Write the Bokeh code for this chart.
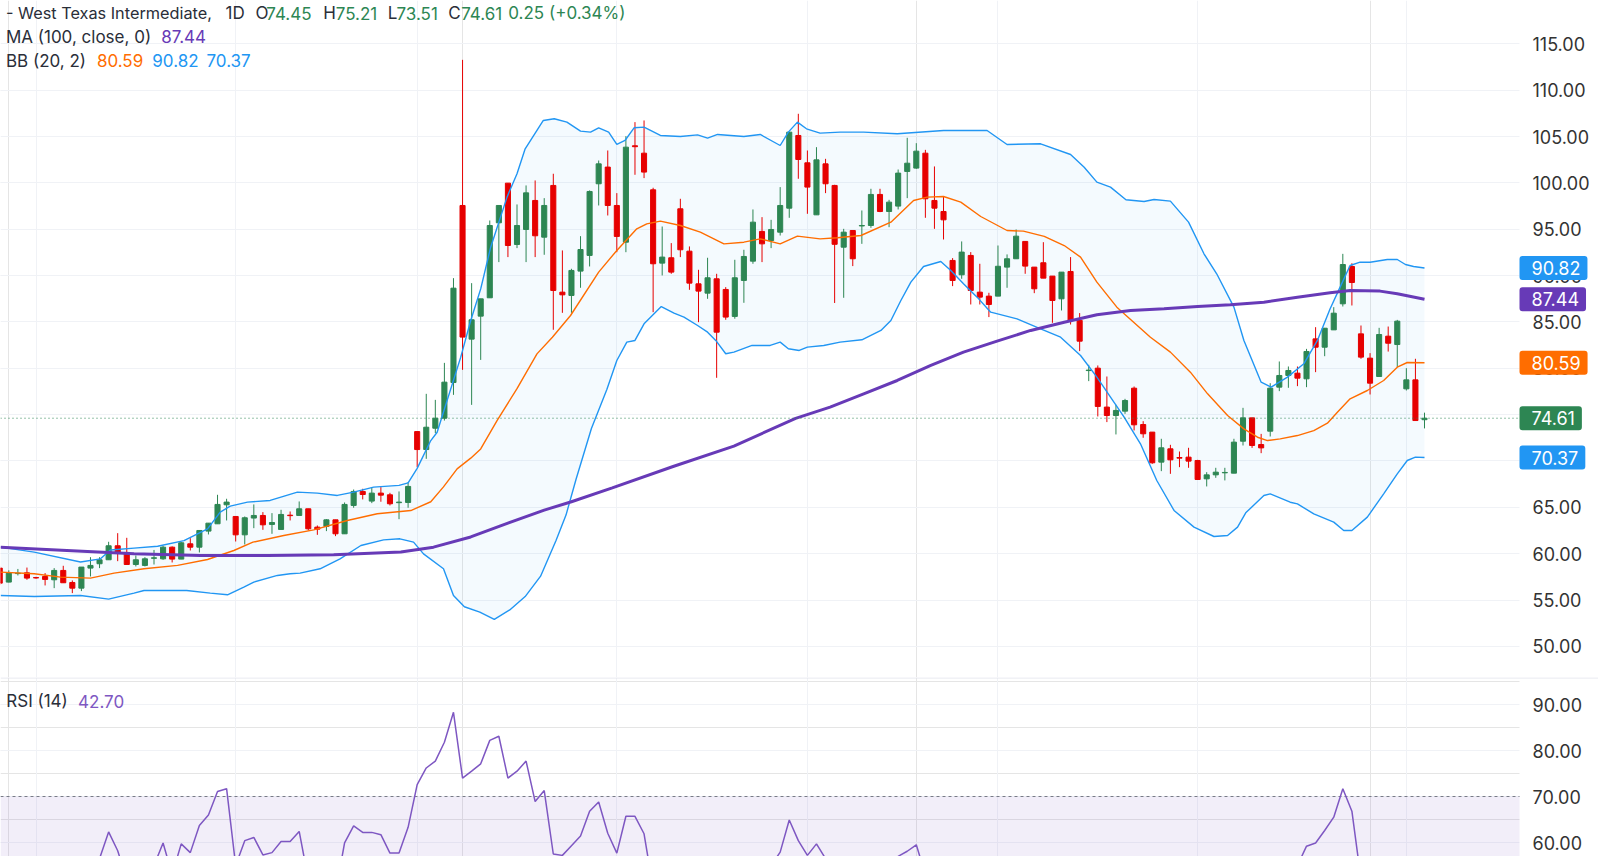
from bokeh.plotting import figure
from bokeh.models import (Range1d, FixedTicker, Grid, Label, Span, BoxAnnotation, PrintfTickFormatter,
                          ColumnDataSource, LinearAxis)
from bokeh.layouts import column
from bokeh.embed import file_html
from bokeh.resources import INLINE

# ---------------- data ----------------
open_ = [58.44, 56.93, 57.85, 57.93, 57.42, 57.54, 57.18, 58.19, 56.89, 56.28, 58.44,
         58.91, 59.34, 60.85, 60.13, 58.83, 58.73, 59.50, 59.44, 60.70, 59.41,
         61.06, 60.70, 62.43, 63.22, 65.27, 64.01, 62.03, 63.84, 64.12, 63.15,
         62.61, 64.15, 64.12, 64.84, 62.86, 62.93, 63.65, 62.14, 65.20, 66.71,
         65.67, 66.53, 66.35, 65.50, 65.52, 73.17, 71.23, 73.53, 74.61, 78.46,
         97.56, 83.14, 85.62, 87.60, 95.69, 99.97, 93.35, 94.97, 98.10, 94.14,
         99.72, 88.21, 87.85, 90.48, 92.17, 99.90, 101.70, 97.56, 93.60, 104.00,
         103.20, 99.25, 91.34, 91.92, 97.20, 92.63, 89.11, 88.10, 89.65, 88.50,
         85.59, 89.47, 91.55, 94.76, 93.78, 94.68, 97.27, 105.11, 102.16, 96.55,
         102.05, 99.72, 93.06, 94.86, 95.35, 95.40, 98.75, 96.91, 97.49, 101.23,
         101.59, 103.20, 98.10, 96.91, 91.63, 90.08, 92.17, 88.21, 87.78, 87.78,
         90.91, 91.81, 93.68, 90.91, 91.38, 89.94, 87.49, 90.44, 85.16, 79.75,
         80.01, 75.81, 74.90, 75.37, 77.85, 73.93, 73.11, 69.87, 71.31, 70.37,
         70.41, 70.05, 68.07, 68.50, 68.72, 68.68, 72.13, 74.65, 71.77, 73.21,
         77.96, 79.22, 79.47, 78.86, 83.17, 82.27, 84.14, 86.95, 90.98, 83.71,
         81.09, 79.11, 83.46, 82.56, 77.78, 78.75, 74.45]
high = [58.60, 58.20, 58.35, 58.50, 57.50, 57.90, 58.44, 58.69, 57.11, 58.55, 59.62,
        59.62, 61.28, 62.21, 61.71, 59.80, 59.62, 60.40, 60.85, 60.78, 61.24,
        61.67, 62.50, 63.29, 66.35, 65.92, 64.01, 64.01, 65.31, 64.48, 64.37,
        64.73, 64.55, 65.63, 64.84, 63.04, 63.72, 63.65, 65.52, 66.92, 67.00,
        67.18, 67.18, 66.56, 66.71, 67.72, 73.17, 77.24, 76.59, 80.58, 89.72,
        113.27, 89.18, 87.49, 95.94, 97.56, 99.97, 97.67, 99.72, 100.26, 98.35,
        100.98, 92.71, 90.73, 94.25, 99.18, 102.41, 103.49, 98.89, 105.04, 106.55,
        106.73, 99.47, 95.29, 93.50, 98.28, 93.14, 90.62, 91.92, 90.19, 88.75,
        91.70, 92.78, 97.13, 96.30, 96.01, 99.54, 105.47, 107.45, 103.49, 103.85,
        102.59, 99.79, 95.04, 94.86, 97.02, 99.36, 99.36, 98.17, 101.44, 104.86,
        104.28, 103.56, 101.77, 98.53, 91.88, 93.68, 92.53, 91.27, 88.14, 93.24,
        92.28, 94.97, 93.68, 90.91, 93.60, 89.94, 90.37, 91.99, 85.95, 80.37,
        80.30, 79.11, 76.06, 76.70, 78.03, 74.29, 73.11, 72.39, 71.74, 71.02,
        71.42, 70.12, 68.79, 69.26, 69.26, 72.39, 75.73, 74.65, 72.92, 78.39,
        80.73, 80.19, 80.19, 82.09, 84.43, 84.32, 86.59, 92.34, 91.33, 84.61,
        81.63, 84.36, 84.50, 85.22, 80.01, 81.02, 75.21]
low = [56.60, 56.90, 57.65, 57.18, 57.30, 56.57, 56.28, 56.86, 55.74, 55.96, 57.54,
       58.44, 59.34, 59.19, 58.83, 58.62, 58.62, 58.83, 59.34, 59.05, 59.41,
       60.34, 60.13, 62.07, 63.22, 63.58, 61.31, 60.99, 62.75, 62.57, 62.14,
       62.61, 63.58, 64.12, 62.50, 62.03, 62.43, 61.89, 62.14, 64.95, 65.85,
       65.45, 65.60, 65.20, 63.72, 64.95, 69.33, 70.23, 73.00, 74.36, 77.13,
       79.83, 76.05, 80.90, 87.60, 91.45, 91.99, 92.96, 91.45, 91.99, 92.24,
       84.15, 85.98, 85.98, 88.68, 90.98, 97.56, 96.48, 92.52, 92.52, 100.87,
       100.51, 86.05, 90.01, 90.19, 91.99, 88.46, 84.97, 87.49, 78.97, 85.23,
       85.34, 87.06, 91.27, 91.45, 92.96, 94.32, 96.23, 100.44, 96.66, 96.55,
       98.89, 87.04, 87.60, 91.02, 93.42, 95.15, 96.84, 95.22, 97.13, 98.35,
       101.51, 96.23, 95.04, 93.89, 88.86, 89.65, 86.88, 86.88, 85.52, 87.78,
       88.68, 91.81, 90.19, 88.10, 89.72, 84.90, 86.23, 84.72, 81.85, 78.61,
       74.80, 74.19, 72.86, 75.08, 73.29, 72.50, 69.69, 68.90, 68.61, 69.33,
       69.26, 67.97, 67.25, 68.18, 67.90, 68.68, 71.67, 71.41, 70.84, 72.64,
       77.53, 77.89, 78.07, 77.96, 79.58, 81.30, 84.14, 86.66, 86.77, 81.02,
       77.17, 79.11, 81.80, 80.12, 77.60, 74.36, 73.51]
close = [56.82, 57.90, 57.90, 57.36, 57.38, 57.22, 58.19, 56.86, 56.28, 58.55, 58.73,
         59.34, 60.85, 60.13, 58.83, 59.34, 59.44, 59.55, 60.70, 59.41, 61.17,
         60.70, 62.50, 63.29, 65.31, 65.56, 62.03, 63.87, 64.12, 63.11, 63.36,
         64.23, 64.10, 64.84, 62.68, 62.64, 63.65, 62.14, 65.31, 66.71, 66.38,
         66.53, 66.31, 65.38, 65.56, 67.25, 71.23, 73.64, 74.61, 78.50, 88.64,
         83.36, 85.23, 87.49, 95.40, 97.56, 93.24, 95.40, 98.92, 94.29, 97.56,
         88.39, 87.92, 90.55, 92.81, 99.07, 102.05, 97.56, 94.22, 103.85, 103.90,
         101.16, 91.27, 91.99, 90.37, 92.78, 89.18, 88.32, 89.76, 83.89, 85.52,
         89.76, 92.06, 95.76, 93.42, 94.97, 97.56, 105.47, 102.52, 99.54, 102.48,
         99.90, 93.37, 94.68, 91.81, 95.40, 98.75, 96.91, 97.92, 101.05, 102.12,
         103.42, 98.28, 97.27, 96.01, 89.47, 92.53, 88.39, 87.67, 86.88, 91.00,
         91.81, 94.25, 91.02, 88.57, 89.72, 87.31, 90.37, 85.16, 82.92, 79.80,
         75.88, 74.90, 75.45, 76.52, 73.90, 72.93, 69.80, 71.42, 70.12, 70.30,
         69.98, 68.00, 68.50, 68.79, 68.76, 72.03, 74.65, 71.67, 71.41, 77.85,
         79.22, 79.76, 78.93, 81.81, 82.27, 84.32, 85.94, 91.19, 89.25, 81.20,
         78.39, 83.64, 82.70, 85.08, 78.75, 74.36, 74.61]

rsi = [45, 48, 49, 46, 46, 45, 51, 47, 44, 52, 54,
       56.5, 62.3, 58.2, 52, 53.5, 54.5, 55, 59.9, 53, 59.7,
       57.8, 63.7, 66.0, 71.1, 71.7, 55, 60.4, 61.1, 57.3, 57.8,
       60.2, 60.2, 62.4, 52, 51, 53, 49, 59.9, 63.6, 62.2,
       62.2, 61.7, 57.7, 57.7, 63.3, 72.6, 76.2, 77.7, 81.8, 88.3,
       74.0, 75.5, 77.1, 82.2, 83.1, 74.0, 75.5, 77.7, 68.9, 71.3,
       57.5, 57.2, 59.3, 61.4, 66.8, 68.8, 62.0, 57.7, 65.7, 65.7,
       61.9, 50, 51, 49.5, 53, 49, 48, 50, 45, 46,
       51, 53, 56, 54.5, 55, 57.9, 64.9, 60.4, 57.2, 59.7,
       56.5, 49, 50.5, 48.5, 51.5, 54.5, 53, 54, 57, 58.1,
       59.5, 53, 52, 51, 45, 48, 44, 43.5, 42.5, 47,
       48, 51, 48, 45.5, 47, 44, 47.5, 42, 40, 37.5,
       34, 33, 34.5, 36, 33, 32, 29.5, 32, 31, 31,
       30.5, 29, 30, 30.5, 31, 38, 44, 40, 39.5, 52,
       55, 56, 55, 59.2, 59.9, 62.6, 65.5, 71.7, 66.8, 52,
       47, 54, 53, 56, 46, 42, 42.70]

ma_x = [-0.9, 6.4, 13.8, 21.1, 28.5, 35.8, 43.2, 46.8, 50.9, 55.0, 59.0, 62.0, 66.5,
        73.2, 79.9, 86.7, 90.5, 94.2, 97.9, 101.6, 105.2, 108.9, 112.6, 116.3, 119.9,
        123.6, 127.3, 131.0, 134.6, 138.3, 142.0, 145.6, 147.8, 151.1, 153.0, 156.0]
ma = [60.70, 60.34, 59.98, 59.80, 59.80, 59.88, 60.17, 60.70, 61.80, 63.30, 64.70, 65.60, 67.10,
      69.40, 71.60, 74.60, 75.80, 77.24, 78.68, 80.30, 81.74, 82.92, 84.08, 84.97, 85.77,
      86.23, 86.41, 86.66, 86.84, 87.13, 87.67, 88.14, 88.39, 88.32, 88.03, 87.44]

bb_up_x = [-0.9, 2.8, 7.9, 10.1, 11.2, 13.8, 16.4, 19.3, 21.9, 23.3, 24.4, 26.3, 28.8, 31.8,
           34.0, 36.2, 38.0, 40.2, 43.0, 44.0, 45.0, 46.5, 47.2, 49.8, 50.9, 52.0, 53.1, 54.9,
           56.0, 56.9, 58.9, 60.1, 61.5, 63.0, 64.1, 65.0, 66.1, 67.0, 67.9, 68.9, 70.0, 71.8,
           74.0, 75.9, 77.0, 78.1, 81.0, 82.8, 85.0, 85.9, 86.9, 87.9, 89.4, 91.6, 94.2, 97.9,
           103.0, 107.8, 110.0, 113.7, 117.0, 118.5, 119.9, 121.4, 123.1, 125.1, 126.2, 128.0,
           130.0, 131.7, 133.1, 135.0, 136.1, 138.0, 139.1, 140.9, 142.7, 144.2, 145.6, 146.7,
           147.8, 148.9, 150.0, 151.9, 153.0, 153.9, 154.8, 156.0]
bb_up = [60.70, 60.17, 59.10, 59.44, 60.40, 60.60, 60.80, 61.40, 62.68, 64.48, 65.13, 65.56, 65.74, 66.64,
         66.53, 66.28, 66.64, 67.18, 67.36, 67.64, 69.20, 72.20, 73.10, 81.20, 85.15, 88.56, 93.06, 98.46,
         100.98, 103.67, 106.73, 106.91, 106.55, 105.58, 105.47, 105.94, 105.47, 104.14, 104.57, 105.94, 106.01, 105.11,
         105.00, 105.18, 104.82, 105.22, 105.00, 105.22, 104.03, 105.47, 106.55, 105.83, 105.36, 105.47, 105.47, 105.29,
         105.65, 105.65, 104.14, 104.21, 103.06, 101.69, 100.08, 99.54, 98.17, 97.99, 98.21, 98.03,
         95.76, 92.35, 90.19, 86.59, 82.99, 78.50, 77.96, 79.04, 80.48, 83.00, 86.41, 88.75,
         91.08, 91.44, 91.44, 91.73, 91.73, 91.19, 90.98, 90.82]

bb_mid_x = [-0.9, 2.8, 5.7, 9.0, 11.6, 14.9, 18.6, 21.9, 24.8, 26.9, 30.3, 33.6, 37.3, 40.6,
            44.3, 46.5, 47.9, 49.4, 50.9, 52.0, 53.8, 56.0, 58.2, 59.9, 61.9, 65.0, 67.0, 69.2,
            70.3, 71.8, 74.0, 76.2, 78.8, 81.0, 82.8, 85.0, 86.9, 89.4, 91.3, 93.9, 97.2, 99.7,
            101.2, 103.0, 104.9, 107.1, 110.0, 111.8, 114.1, 116.3, 118.1, 119.9, 122.1, 125.8,
            128.0, 130.2, 132.1, 134.3, 136.1, 137.6, 138.7, 140.1, 142.0, 143.8, 145.3, 146.4,
            147.8, 149.7, 151.5, 153.0, 154.1, 156.0]
bb_mid = [58.01, 57.83, 57.47, 57.36, 57.90, 58.37, 58.73, 59.37, 60.34, 61.24, 61.96, 62.57, 63.58, 64.30,
          64.65, 65.60, 67.20, 69.15, 70.30, 71.30, 74.36, 77.80, 81.55, 83.35, 85.69, 90.37, 92.71, 95.04,
          95.58, 95.87, 95.40, 94.68, 93.42, 93.60, 93.96, 93.42, 94.25, 93.96, 94.07, 94.32, 95.76, 98.10,
          98.46, 98.53, 97.92, 96.37, 94.86, 94.79, 94.22, 93.24, 91.99, 89.29, 86.59, 83.35,
          81.74, 79.58, 77.24, 74.90, 73.46, 72.56, 72.20, 72.38, 72.74, 73.28, 74.07, 75.26,
          76.70, 77.60, 78.68, 80.12, 80.62, 80.59]

bb_lo_x = [-0.9, 2.8, 7.9, 11.0, 13.8, 14.9, 19.6, 22.2, 24.1, 25.9, 27.0, 29.6, 31.0, 32.1,
           34.3, 36.5, 38.8, 41.3, 43.1, 44.6, 45.7, 47.9, 49.0, 50.2, 51.9, 53.5, 55.2, 56.9,
           58.6, 60.3, 61.4, 62.5, 64.2, 65.9, 67.0, 68.1, 69.0, 70.0, 71.1, 71.9, 73.3, 74.4,
           75.9, 77.0, 77.9, 79.0, 79.9, 81.9, 83.9, 85.0, 85.9, 87.1, 88.0, 89.8, 91.6, 94.0,
           96.1, 97.2, 98.3, 99.4, 100.8, 102.7, 103.8, 105.2, 106.7, 108.2, 111.1, 113.7,
           115.9, 118.1, 119.9, 121.4, 122.9, 124.7, 126.5, 128.4, 130.6, 132.8, 134.3, 135.4,
           136.3, 138.3, 139.0, 141.2, 142.0, 143.8, 146.0, 147.1, 148.0, 149.7, 151.5, 153.0,
           154.1, 155.0, 156.0]
bb_lo = [55.49, 55.38, 55.49, 55.09, 55.74, 56.03, 56.03, 55.74, 55.56, 56.39, 56.93, 57.65, 57.83, 57.90,
         58.37, 59.44, 60.88, 61.49, 61.60, 61.24, 59.98, 58.37, 55.49, 54.27, 53.70, 52.90, 53.93, 55.37,
         57.57, 61.42, 64.16, 68.00, 73.50, 77.70, 80.84, 82.82, 83.00, 84.79, 85.87, 86.66, 85.94, 85.52,
         84.61, 83.89, 83.00, 81.56, 81.74, 82.46, 82.46, 82.82, 82.10, 81.92, 82.28, 82.46, 82.82, 83.07,
         84.08, 85.15, 87.31, 89.29, 90.98, 91.52, 90.55, 89.11, 87.67, 86.05, 85.33, 84.25,
         83.35, 81.38, 79.04, 76.88, 74.72, 71.85, 67.89, 64.66, 62.86, 61.85, 61.96, 62.86,
         64.40, 66.27, 66.45, 65.55, 65.37, 64.29, 63.40, 62.50, 62.50, 63.94, 66.45, 68.61,
         70.05, 70.41, 70.37]

month_idx = [3, 25, 45, 67, 88, 109, 131, 154]     # first bar of each month (vertical grid)
price_ticks = [50, 55, 60, 65, 70, 75, 80, 85, 90, 95, 100, 105, 110, 115, 120]
rsi_ticks = [60, 70, 80, 90]
rsi_band = (30, 70)
title_parts = ["- West Texas Intermediate,", "1D"]
ma_label = "MA (100, close, 0)"
bb_label = "BB (20, 2)"
rsi_label = "RSI (14)"

# ---------------- styles / geometry ----------------
UP, DOWN = "#2D8653", "#E60000"
BLUE, ORANGE, PURPLE, RSI_C = "#2196F3", "#FF6D00", "#673AB7", "#7E57C2"
GRID, TXT, AXT = "#F0F2F6", "#2A2E39", "#333333"
FONT = "Inter"
W = 1598
PRICE_H, RSI_H = 677, 179
BAR0, STEP = 8.3, 9.075            # pixel of bar 0, pixels per bar
EDGE_PX = 1519                     # right edge of the plotting area
X_LO = (0 - BAR0) / STEP
X_HI = (W - BAR0) / STEP
EDGE_X = (EDGE_PX - BAR0) / STEP

n = len(close)
bar_x = list(range(-1, n - 1))
src = ColumnDataSource(dict(
    x=bar_x, h=high, l=low,
    top=[max(a, b) for a, b in zip(open_, close)],
    bot=[min(a, b) for a, b in zip(open_, close)],
    col=[UP if c >= o else DOWN for o, c in zip(open_, close)]))

xr = Range1d(X_LO, X_HI)


def setup(fig, ticks):
    ax = LinearAxis(fixed_location=EDGE_X, ticker=FixedTicker(ticks=ticks),
                    formatter=PrintfTickFormatter(format="%.2f"))
    ax.major_label_text_font = FONT
    ax.major_label_text_font_size = "18px"
    ax.major_label_text_color = AXT
    ax.major_label_standoff = 7
    ax.major_tick_line_color = None
    ax.minor_tick_line_color = None
    ax.axis_line_color = None
    fig.add_layout(ax, "right")
    fig.add_layout(Grid(dimension=1, ticker=FixedTicker(ticks=ticks), grid_line_color=GRID))
    fig.add_layout(Grid(dimension=0, ticker=FixedTicker(ticks=month_idx), grid_line_color=GRID))
    fig.add_layout(BoxAnnotation(left=EDGE_X, fill_color="white", fill_alpha=1.0, line_color=None,
                                 level="underlay"))


common = dict(frame_width=W, x_range=xr, output_backend="svg", toolbar_location=None,
              x_axis_location=None, y_axis_location=None, min_border_left=0, min_border_right=0,
              min_border_top=0, min_border_bottom=0,
              outline_line_color=None, background_fill_color="white", border_fill_color="white")

price = figure(frame_height=PRICE_H, y_range=Range1d(115 - (PRICE_H - 43.3) / 9.27, 115 + 43.3 / 9.27), **common)
setup(price, price_ticks)

# Bollinger band fill
price.patch(bb_up_x + bb_lo_x[::-1], bb_up + bb_lo[::-1], fill_color=BLUE, fill_alpha=0.05, line_color=None)
# candles
price.segment(x0="x", y0="l", x1="x", y1="h", line_color="col", line_width=1, source=src)
price.vbar(x="x", width=0.56, top="top", bottom="bot", fill_color="col", line_color="col", line_width=1, source=src)
# indicators
price.line(bb_up_x, bb_up, line_color=BLUE, line_width=1.4)
price.line(bb_lo_x, bb_lo, line_color=BLUE, line_width=1.4)
price.line(bb_mid_x, bb_mid, line_color=ORANGE, line_width=1.4)
price.line(ma_x, ma, line_color=PURPLE, line_width=3)
# last price line
price.line([X_LO, EDGE_X], [close[-1], close[-1]], line_color=UP, line_width=1, line_dash="1 3")


def lab(fig, h, x, yc, s, color, align="left", size="17px"):
    fig.add_layout(Label(x=x, y=h - yc, x_units="screen", y_units="screen", text=s, text_color=color,
                         text_font=FONT, text_font_size=size, text_baseline="middle", text_align=align))


chg = close[-1] - close[-2]
pct = chg / close[-2] * 100
y1, y2, y3 = 12.8, 36.2, 60.2
lab(price, PRICE_H, 5.4, y1, title_parts[0], TXT, size="16.3px")
lab(price, PRICE_H, 244.3, y1, title_parts[1], TXT, align="right")
for letter, v, lx, vx in [("O", open_[-1], 255.0, 311.0), ("H", high[-1], 322.7, 376.7),
                          ("L", low[-1], 387.3, 437.3), ("C", close[-1], 447.7, 501.7)]:
    lab(price, PRICE_H, lx, y1, letter, TXT)
    lab(price, PRICE_H, vx, y1, f"{v:.2f}", UP, align="right")
lab(price, PRICE_H, 625.0, y1, f"{chg:.2f} ({pct:+.2f}%)", UP, align="right")
lab(price, PRICE_H, 5.4, y2, ma_label, TXT)
lab(price, PRICE_H, 160.7, y2, f"{ma[-1]:.2f}", PURPLE)
lab(price, PRICE_H, 5.4, y3, bb_label, TXT)
lab(price, PRICE_H, 96.4, y3, f"{bb_mid[-1]:.2f}", ORANGE)
lab(price, PRICE_H, 151.8, y3, f"{bb_up[-1]:.2f}", BLUE)
lab(price, PRICE_H, 206.0, y3, f"{bb_lo[-1]:.2f}", BLUE)

# price tags on the axis
for v, c in [(bb_up[-1], BLUE), (ma[-1], PURPLE), (bb_mid[-1], ORANGE), (close[-1], UP), (bb_lo[-1], BLUE)]:
    price.add_layout(Label(x=EDGE_X, y=v, x_units="data", y_units="data", text=f"{v:.2f}", text_color="white",
                           text_font=FONT, text_font_size="18px", text_baseline="middle", text_align="left",
                           background_fill_color=c, background_fill_alpha=1.0,
                           padding=dict(left=12, right=7, top=5, bottom=5), border_radius=3))

# ---------------- RSI panel ----------------
rsi_fig = figure(frame_height=RSI_H, y_range=Range1d(60 - (856 - 842) / 4.6, 90 + (704 - 677) / 4.6), **common)
setup(rsi_fig, rsi_ticks)
rsi_fig.add_layout(BoxAnnotation(bottom=rsi_band[0], top=rsi_band[1], right=EDGE_X, fill_color=RSI_C,
                                 fill_alpha=0.1, line_color=None, level="underlay"))
rsi_fig.line([X_LO, EDGE_X], [rsi_band[1], rsi_band[1]], line_color="#787B86", line_width=1, line_dash="3 3")
rsi_fig.add_layout(Span(location=rsi_fig.y_range.end - 0.1, dimension="width", line_color="#E0E3EB", line_width=1))
rsi_fig.line(bar_x, rsi, line_color=RSI_C, line_width=1.5)
lab(rsi_fig, RSI_H, 5.8, 700.5 - 677, rsi_label, TXT)
lab(rsi_fig, RSI_H, 77.6, 700.5 - 677, f"{rsi[-1]:.2f}", RSI_C)

layout = column(price, rsi_fig, spacing=0)
open("out.html", "w").write(file_html(layout, INLINE))
